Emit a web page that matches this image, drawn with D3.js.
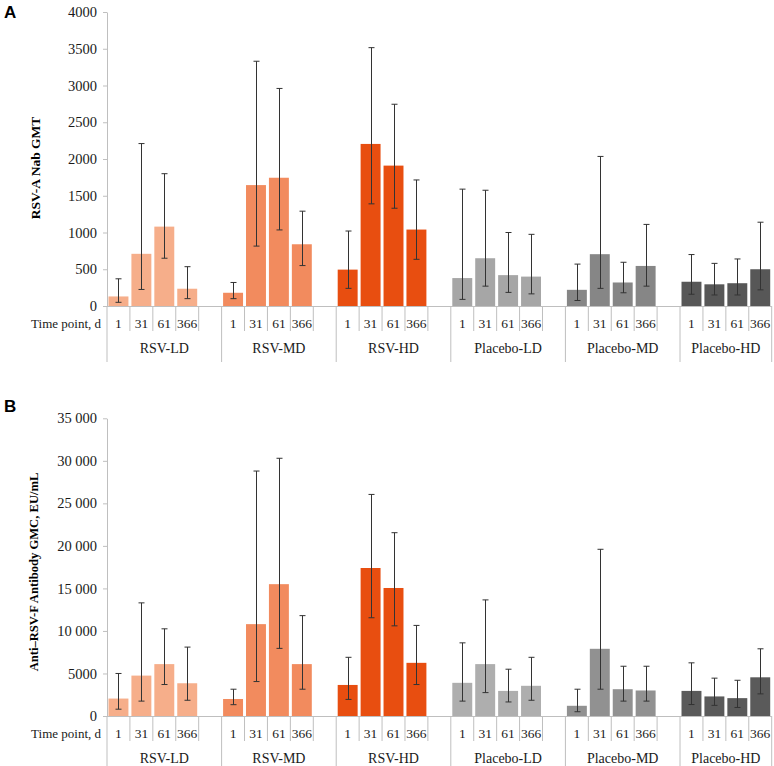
<!DOCTYPE html>
<html>
<head>
<meta charset="utf-8">
<script src="https://cdn.jsdelivr.net/npm/d3@7"></script>
<style>
  html, body { margin: 0; padding: 0; background: #ffffff; }
  svg { display: block; }
</style>
</head>
<body>
<svg id="chart" width="774" height="766"></svg>
<script>
// ---------- DATA ----------
const groups = ["RSV-LD", "RSV-MD", "RSV-HD", "Placebo-LD", "Placebo-MD", "Placebo-HD"];
const timePoints = ["1", "31", "61", "366"];
const timeAxisLabel = "Time point, d";

// Panel A: RSV-A neutralizing antibody GMT (per group, per time point)
const nabGMT  = [[130, 710, 1080, 235], [180, 1645, 1745, 840], [495, 2205, 1910, 1040],
                 [380, 650, 420, 400], [220, 705, 320, 545], [330, 295, 310, 500]];
const nabLow  = [[50, 225, 650, 100], [100, 815, 1035, 550], [240, 1390, 1330, 635],
                 [90, 270, 185, 165], [75, 240, 180, 270], [160, 150, 150, 220]];
const nabHigh = [[370, 2210, 1800, 535], [320, 3330, 2960, 1290], [1020, 3515, 2745, 1715],
                 [1590, 1575, 1000, 975], [570, 2035, 595, 1110], [700, 580, 640, 1140]];
const nabTicks = [0, 500, 1000, 1500, 2000, 2500, 3000, 3500, 4000];
const nabTickLabels = ["0", "500", "1000", "1500", "2000", "2500", "3000", "3500", "4000"];

// Panel B: Anti-RSV-F antibody GMC, EU/mL
const fGMC  = [[2050, 4750, 6100, 3850], [2000, 10800, 15500, 6100], [3650, 17400, 15050, 6250],
               [3900, 6100, 2950, 3550], [1200, 7900, 3150, 3000], [2950, 2300, 2100, 4550]];
const fLow  = [[800, 1750, 3700, 1850], [1330, 4050, 7950, 3150], [1950, 11550, 10600, 3700],
               [1750, 2750, 1650, 1850], [500, 3150, 1750, 1750], [1350, 1250, 1000, 2600]];
const fHigh = [[5000, 13300, 10250, 8100], [3150, 28800, 30300, 11800], [6900, 26050, 21550, 10650],
               [8600, 13650, 5500, 6900], [3150, 19600, 5850, 5850], [6250, 4450, 4200, 7900]];
const fTicks = [0, 5000, 10000, 15000, 20000, 25000, 30000, 35000];
const fTickLabels = ["0", "5000", "10 000", "15 000", "20 000", "25 000", "30 000", "35 000"];

const colorsA = ["#F6AE8A", "#F28B5E", "#E84E10", "#A6A6A6", "#868686", "#575757"];
const colorsB = ["#F6AE8A", "#F28B5E", "#E84E10", "#AEAEAE", "#919191", "#5A5A5A"];

// ---------- DRAW ----------
const svg = d3.select("#chart");
const serif = "'Liberation Serif', 'Times New Roman', serif";
const sans = "'Liberation Sans', Arial, sans-serif";
const axisGray = "#BFBFBF";

// slot keys: 4 time points per group + an empty spacer slot (except after last group)
const slots = [];
groups.forEach((g, gi) => {
  timePoints.forEach(t => slots.push(g + "|" + t));
  if (gi < groups.length - 1) slots.push(g + "|gap");
});

const xSlot = d3.scaleBand().domain(slots).range([107, 771.7]).padding(0);
const xBar = xSlot.copy().paddingInner(0.13).paddingOuter(0.065);

function drawPanel(opt) {
  const g = svg.append("g");
  const y = d3.scaleLinear().domain(opt.domain).range([opt.y0, opt.yTop]);

  // panel letter
  g.append("text").attr("x", 4).attr("y", opt.letterY)
    .style("font-family", sans).attr("font-weight", "bold").attr("font-size", 17)
    .attr("fill", "#000").text(opt.letter);

  // y axis
  const yAxis = d3.axisLeft(y).tickValues(opt.ticks)
    .tickFormat((d, i) => opt.tickLabels[i]).tickSize(4).tickSizeOuter(0).tickPadding(6);
  const ya = g.append("g").attr("transform", "translate(107,0)").call(yAxis);
  ya.select(".domain").attr("stroke", axisGray);
  ya.selectAll(".tick line").attr("stroke", axisGray);
  ya.selectAll(".tick text").style("font-family", serif).style("font-size", "14.5px").attr("fill", "#1a1a1a");

  // y title
  g.append("text")
    .attr("transform", `translate(${opt.titleX},${opt.titleY}) rotate(-90)`)
    .attr("text-anchor", "middle").attr("dominant-baseline", "central")
    .style("font-family", serif).attr("font-weight", "bold").style("font-size", opt.titleSize + "px")
    .attr("fill", "#000").text(opt.title);

  // bars
  const rows = [];
  groups.forEach((grp, gi) => timePoints.forEach((t, ti) => rows.push({
    key: grp + "|" + t, gi, v: opt.vals[gi][ti], lo: opt.low[gi][ti], hi: opt.high[gi][ti]
  })));

  g.selectAll("rect.bar").data(rows).enter().append("rect").attr("class", "bar")
    .attr("x", d => xBar(d.key)).attr("width", xBar.bandwidth())
    .attr("y", d => y(d.v)).attr("height", d => y(0) - y(d.v))
    .attr("fill", d => opt.colors[d.gi]);

  // x axis baseline
  g.append("line").attr("x1", 107).attr("x2", xSlot.range()[1])
    .attr("y1", opt.y0 + 0.5).attr("y2", opt.y0 + 0.5).attr("stroke", axisGray);

  // category separators
  const innerBounds = [];
  const groupBounds = [107];
  groups.forEach((grp, gi) => {
    timePoints.forEach((t, ti) => { if (ti > 0) innerBounds.push(xSlot(grp + "|" + t)); });
    const last = grp + "|" + timePoints[timePoints.length - 1];
    if (gi < groups.length - 1) {
      innerBounds.push(xSlot(last) + xSlot.bandwidth());
      groupBounds.push(xSlot(grp + "|gap") + xSlot.bandwidth());
    } else {
      groupBounds.push(xSlot(last) + xSlot.bandwidth());
    }
  });
  g.selectAll("line.inner").data(innerBounds).enter().append("line").attr("class", "inner")
    .attr("x1", d => d).attr("x2", d => d).attr("y1", opt.y0).attr("y2", opt.y0 + 25)
    .attr("stroke", axisGray);
  g.selectAll("line.grp").data(groupBounds).enter().append("line").attr("class", "grp")
    .attr("x1", d => d).attr("x2", d => d).attr("y1", opt.y0).attr("y2", opt.y0 + 56)
    .attr("stroke", axisGray);

  // time point labels
  g.selectAll("text.tp").data(rows).enter().append("text").attr("class", "tp")
    .attr("x", d => xSlot(d.key) + xSlot.bandwidth() / 2).attr("y", opt.y0 + 17)
    .attr("text-anchor", "middle").attr("dominant-baseline", "central")
    .style("font-family", serif).style("font-size", "13.5px").attr("fill", "#1a1a1a")
    .text(d => d.key.split("|")[1]);
  g.append("text").attr("x", 101).attr("y", opt.y0 + 17)
    .attr("text-anchor", "end").attr("dominant-baseline", "central")
    .style("font-family", serif).style("font-size", "13px").attr("fill", "#1a1a1a").text(timeAxisLabel);

  // group labels
  g.selectAll("text.gl").data(groups).enter().append("text").attr("class", "gl")
    .attr("x", (d, i) => (groupBounds[i] + groupBounds[i + 1]) / 2)
    .attr("y", opt.y0 + 42)
    .attr("text-anchor", "middle").attr("dominant-baseline", "central")
    .style("font-family", serif).style("font-size", "14px").attr("fill", "#1a1a1a").text(d => d);

  // error bars
  const cx = d => Math.round(xBar(d.key) + xBar.bandwidth() / 2) + 0.5;
  const eb = g.selectAll("g.err").data(rows).enter().append("g").attr("class", "err")
    .attr("stroke", "#333").attr("stroke-width", 1);
  eb.append("line").attr("x1", cx).attr("x2", cx).attr("y1", d => y(d.lo)).attr("y2", d => y(d.hi));
  eb.append("line").attr("x1", d => cx(d) - 3).attr("x2", d => cx(d) + 3)
    .attr("y1", d => y(d.hi)).attr("y2", d => y(d.hi));
  eb.append("line").attr("x1", d => cx(d) - 3).attr("x2", d => cx(d) + 3)
    .attr("y1", d => y(d.lo)).attr("y2", d => y(d.lo));
}

drawPanel({
  letter: "A", letterY: 18, domain: [0, 4000], y0: 306, yTop: 12,
  ticks: nabTicks, tickLabels: nabTickLabels, title: "RSV-A Nab GMT", titleSize: 13.5,
  titleX: 35, titleY: 168, vals: nabGMT, low: nabLow, high: nabHigh, colors: colorsA
});
drawPanel({
  letter: "B", letterY: 412, domain: [0, 35000], y0: 716, yTop: 418.3,
  ticks: fTicks, tickLabels: fTickLabels, title: "Anti\u2013RSV-F Antibody GMC, EU/mL", titleSize: 12.6,
  titleX: 34, titleY: 572, vals: fGMC, low: fLow, high: fHigh, colors: colorsB
});
</script>
</body>
</html>
